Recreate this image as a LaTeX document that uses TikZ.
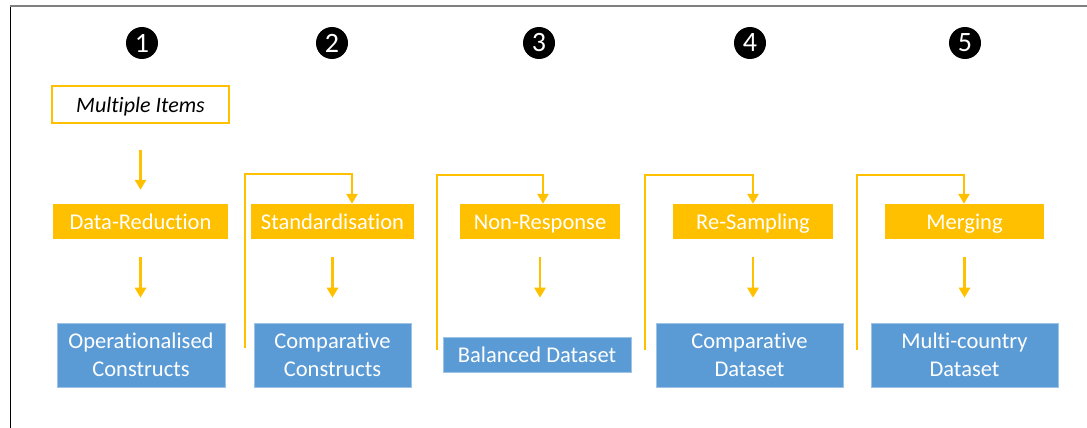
\documentclass[tikz,border=0pt]{standalone}
\usepackage{fontspec}
\setmainfont{Carlito}[Ligatures=NoCommon]
\usepackage{tikz}
\usetikzlibrary{arrows.meta,positioning}

\definecolor{amber}{HTML}{FFC000}
\definecolor{steel}{HTML}{5B9BD5}

\begin{document}
\begin{tikzpicture}[x=1pt,y=-1pt,
		task node/.style={rectangle,fill=amber,text=white,inner sep=0pt,
			text height=17pt,text depth=2pt,
			minimum height=35pt,font=\fontsize{22.5}{26}\selectfont},
		data node/.style={rectangle,fill=steel,draw=steel!60!white,line width=0.6pt,
			text=white,inner sep=0pt,align=center,font=\fontsize{22.5}{27.5}\selectfont},
		input node/.style={rectangle,draw=amber,line width=1.2pt,fill=white,inner sep=0pt,
			text height=17pt,text depth=2pt,
			minimum width=177pt,minimum height=37pt,font=\fontsize{22}{24}\selectfont\itshape},
		num node/.style={circle,fill=black,text=white,inner sep=0pt,minimum size=32pt,
			font=\fontsize{28}{30}\selectfont},
		flow/.style={amber,line width=2.6pt,-{Triangle[width=11pt,length=10pt]}}]
		
		\useasboundingbox (0,0) rectangle (1087,428);
		\draw[line width=1pt] (10,428) -- (10,6);
		\draw[gray,line width=1.5pt] (10,6) -- (1087,6);
		
		% step numbers
		\node[num node] (n1) at (142,43) {1};
		\node[num node] (n2) at (332,43) {2};
		\node[num node] (n3) at (539,43) {3};
		\node[num node] (n4) at (750,43) {4};
		\node[num node] (n5) at (965,43) {5};
		
		\node[input node] (mi) at (140.5,104.5) {Multiple Items};
		
		\node[task node,minimum width=175pt] (dr) at (140.5,221.5) {Data-Reduction};
		\node[task node,minimum width=163pt] (sd) at (332.5,221.5) {Standardisation};
		\node[task node,minimum width=160pt] (nr) at (540,221.5) {Non-Response};
		\node[task node,minimum width=160pt] (rs) at (753,221.5) {Re-Sampling};
		\node[task node,minimum width=159pt] (mg) at (964.5,221.5) {Merging};
		
		\node[data node,minimum width=168pt,minimum height=64pt] (oc) at (141,355) {Operationalised\\Constructs};
		\node[data node,minimum width=157pt,minimum height=64pt] (cc) at (332.5,355) {Comparative\\Constructs};
		\node[data node,minimum width=188pt,minimum height=35pt,text height=17pt,text depth=2pt] (bd) at (537,354.5) {Balanced Dataset};
		\node[data node,minimum width=187pt,minimum height=64pt] (cd) at (749.5,355) {Comparative\\Dataset};
		\node[data node,minimum width=187pt,minimum height=64pt] (md) at (964.5,355) {Multi-country\\Dataset};
		
		% straight arrows
		\draw[flow,shorten <=26pt,shorten >=14pt] (mi.south) -- (mi.south |- dr.north);
		\draw[flow,shorten <=18pt,shorten >=25pt] (dr.south) -- (dr.south |- oc.north);
		\draw[flow,shorten <=18pt,shorten >=25pt] (sd.south) -- (sd.south |- cc.north);
		\draw[flow,shorten <=18pt,shorten >=39pt] (nr.south) -- (nr.south |- bd.north);
		\draw[flow,shorten <=18pt,shorten >=25pt] (rs.south) -- (rs.south |- cd.north);
		\draw[flow,shorten <=18pt,shorten >=25pt] (mg.south) -- (mg.south |- md.north);
		
		% feed-forward connectors
		\coordinate (f1) at (245,348);
		\coordinate (g1) at (352,174);
		\coordinate (f2) at (437,350);
		\coordinate (g2) at (543,175);
		\coordinate (f3) at (645,350);
		\coordinate (g3) at (753,175);
		\coordinate (f4) at (857,350);
		\coordinate (g4) at (964,175);
		\draw[flow] (f1) |- (g1) -- (g1 |- sd.north);
		\draw[flow] (f2) |- (g2) -- (g2 |- nr.north);
		\draw[flow] (f3) |- (g3) -- (g3 |- rs.north);
		\draw[flow] (f4) |- (g4) -- (g4 |- mg.north);
\end{tikzpicture}
\end{document}
